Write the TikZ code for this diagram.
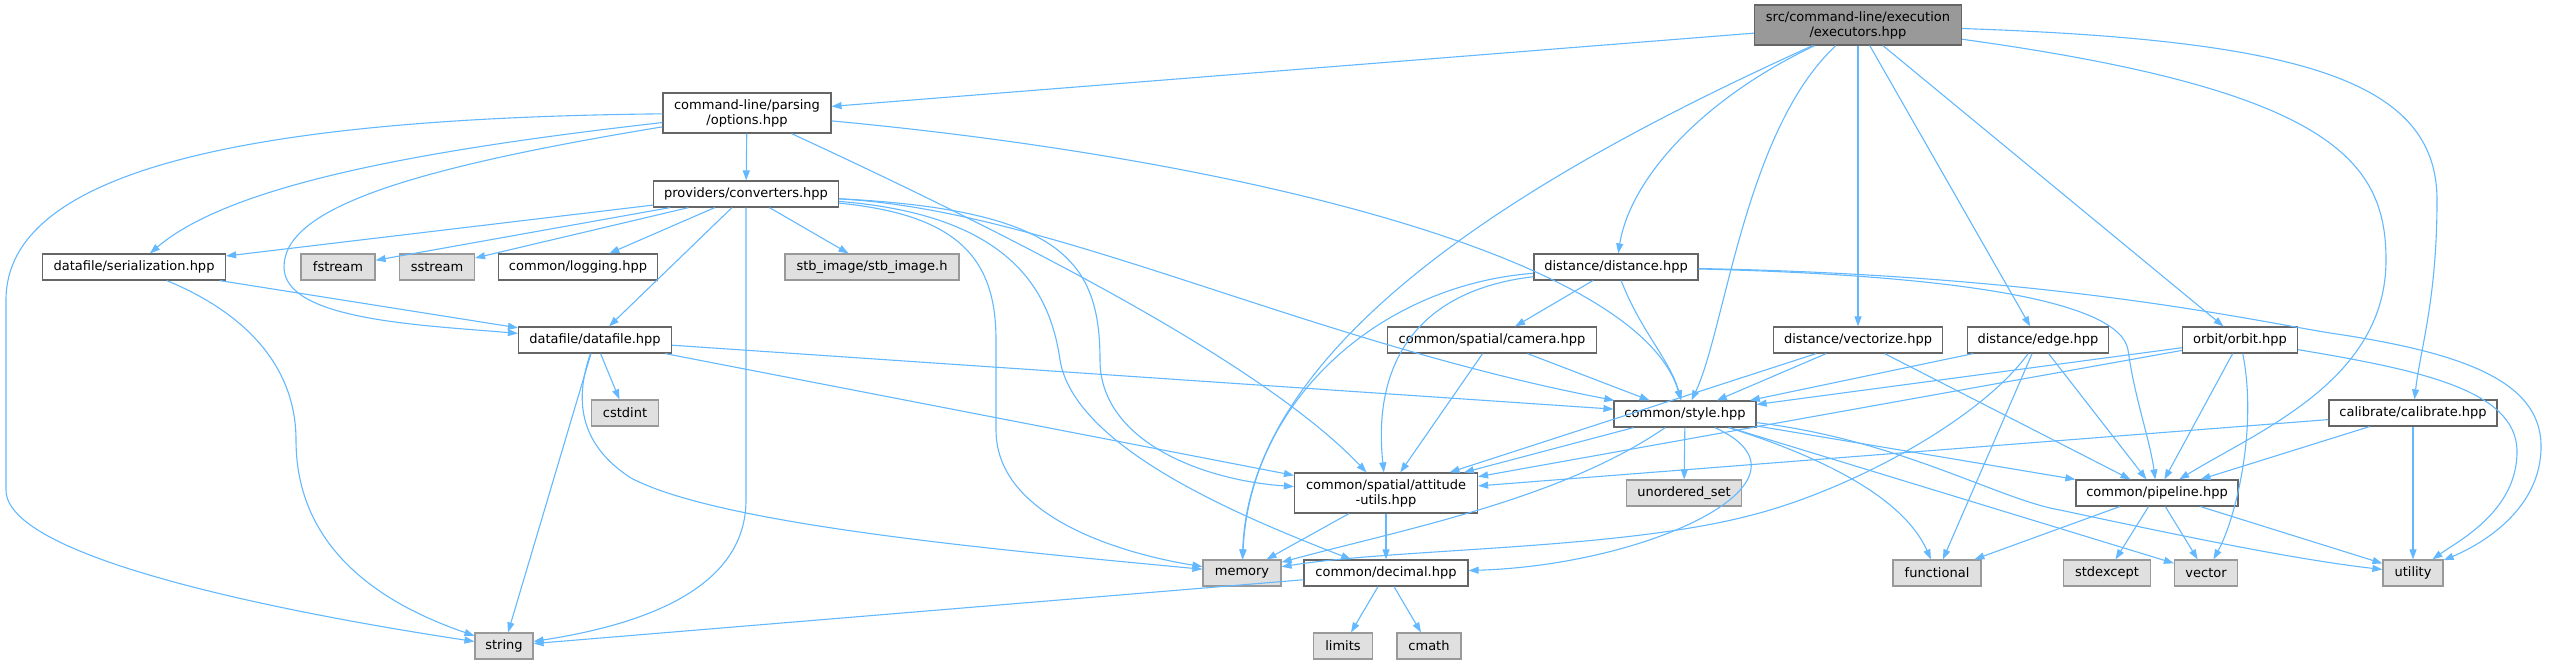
\documentclass[tikz,border=0pt]{standalone}
\usepackage{fontspec}
\setmainfont{DejaVu Sans}
\usepackage{tikz}
\usetikzlibrary{arrows.meta}

\definecolor{deplink}{HTML}{63B8FF}
\definecolor{boxline}{HTML}{666666}
\definecolor{sysfill}{HTML}{E0E0E0}
\definecolor{sysline}{HTML}{999999}
\definecolor{rootfill}{HTML}{999999}

\begin{document}
\begin{tikzpicture}[x=1pt,y=-1pt,
    file/.style={draw=boxline,fill=white,line width=1.2pt,minimum height=26pt,inner xsep=4pt,inner ysep=2pt,align=center,font=\fontsize{13pt}{15pt}\selectfont},
    sys/.style={file,draw=sysline,fill=sysfill},
    root/.style={file,fill=rootfill},
    dep/.style={draw=deplink,line width=1.1pt,-{Triangle[length=10pt,width=7pt]}}]
    \useasboundingbox (0,0) rectangle (2550,667);

    \node[root, minimum width=207pt, minimum height=40pt] (executors) at (1858,25) {src/command-line/execution\\/executors.hpp};
    \node[file, minimum width=168pt, minimum height=40pt] (options) at (747,113) {command-line/parsing\\/options.hpp};
    \node[file, minimum width=185pt] (converters) at (746,194) {providers/converters.hpp};
    \node[file, minimum width=183pt] (serialization) at (134,267) {datafile/serialization.hpp};
    \node[sys, minimum width=74pt] (fstream) at (338,267) {fstream};
    \node[sys, minimum width=75pt] (sstream) at (437,267) {sstream};
    \node[file, minimum width=159pt] (logging) at (578,267) {common/logging.hpp};
    \node[sys, minimum width=174pt] (stbimage) at (872,267) {stb\_image/stb\_image.h};
    \node[file, minimum width=164pt] (distance) at (1616,267) {distance/distance.hpp};
    \node[file, minimum width=153pt] (datafile) at (595,340) {datafile/datafile.hpp};
    \node[file, minimum width=209pt] (camera) at (1492,340) {common/spatial/camera.hpp};
    \node[file, minimum width=169pt] (vectorize) at (1858,340) {distance/vectorize.hpp};
    \node[file, minimum width=141pt] (distedge) at (2038,340) {distance/edge.hpp};
    \node[file, minimum width=115pt] (orbit) at (2240,340) {orbit/orbit.hpp};
    \node[sys, minimum width=67pt] (cstdint) at (625,413) {cstdint};
    \node[file, minimum width=142pt] (style) at (1685,414) {common/style.hpp};
    \node[file, minimum width=168pt] (calibrate) at (2413,413) {calibrate/calibrate.hpp};
    \node[file, minimum width=183pt, minimum height=40pt] (attitude) at (1386,493) {common/spatial/attitude\\-utils.hpp};
    \node[sys, minimum width=115pt] (unorderedset) at (1684,493) {unordered\_set};
    \node[file, minimum width=162pt] (pipeline) at (2157,493) {common/pipeline.hpp};
    \node[sys, minimum width=78pt] (memory) at (1242,573) {memory};
    \node[file, minimum width=164pt] (decimal) at (1386,573) {common/decimal.hpp};
    \node[sys, minimum width=88pt] (functional) at (1937,573) {functional};
    \node[sys, minimum width=87pt] (stdexcept) at (2107,573) {stdexcept};
    \node[sys, minimum width=63pt] (vector) at (2206,573) {vector};
    \node[sys, minimum width=60pt] (utility) at (2413,573) {utility};
    \node[sys, minimum width=58pt] (string) at (504,646) {string};
    \node[sys, minimum width=59pt] (limits) at (1343,646) {limits};
    \node[sys, minimum width=64pt] (cmath) at (1429,646) {cmath};

    \draw[dep] (executors) -- (options);
    \draw[dep] (executors) .. controls (1560,160) and (1250,330) .. (memory);
    \draw[dep] (executors) .. controls (1700,100) and (1630,180) .. (distance);
    \draw[dep] (executors) .. controls (1745,130) and (1725,330) .. (style);
    \draw[dep] (executors) -- (vectorize);
    \draw[dep] (executors) -- (distedge);
    \draw[dep] (executors) -- (orbit);
    \draw[dep] (executors) .. controls (2330,90) and (2386,160) .. (2386,260) .. controls (2386,380) and (2260,430) .. (pipeline);
    \draw[dep] (executors) .. controls (2300,40) and (2437,80) .. (2437,200) .. controls (2437,300) and (2420,350) .. (calibrate);

    \draw[dep] (options) -- (converters);
    \draw[dep] (options) .. controls (250,118) and (6,170) .. (6,300) -- (6,490) .. controls (6,560) and (300,615) .. (string);
    \draw[dep] (options) .. controls (420,150) and (230,185) .. (serialization);
    \draw[dep] (options) .. controls (400,170) and (284,210) .. (284,267) .. controls (284,320) and (420,325) .. (datafile);
    \draw[dep] (options) .. controls (1000,230) and (1260,360) .. (attitude);
    \draw[dep] (options) .. controls (1250,160) and (1640,260) .. (style);

    \draw[dep] (converters) -- (serialization);
    \draw[dep] (converters) -- (fstream);
    \draw[dep] (converters) -- (sstream);
    \draw[dep] (converters) -- (logging);
    \draw[dep] (converters) -- (datafile);
    \draw[dep] (converters) -- (746,500) .. controls (746,590) and (640,625) .. (string);
    \draw[dep] (converters) -- (stbimage);
    \draw[dep] (converters) .. controls (960,215) and (996,260) .. (996,340) -- (996,430) .. controls (996,520) and (1130,555) .. (memory);
    \draw[dep] (converters) .. controls (1010,215) and (1050,290) .. (1060,360) .. controls (1075,450) and (1250,520) .. (decimal);
    \draw[dep] (converters) .. controls (1060,210) and (1100,260) .. (1100,360) .. controls (1100,440) and (1200,480) .. (attitude);
    \draw[dep] (converters) .. controls (1050,210) and (1300,340) .. (style);

    \draw[dep] (serialization) -- (datafile);
    \draw[dep] (serialization) .. controls (250,315) and (296,370) .. (296,440) .. controls (296,560) and (400,610) .. (string);

    \draw[dep] (datafile) -- (cstdint);
    \draw[dep] (datafile) -- (string);
    \draw[dep] (datafile) .. controls (578,390) and (572,440) .. (631,478) .. controls (720,525) and (1000,550) .. (memory);
    \draw[dep] (datafile) -- (attitude);
    \draw[dep] (datafile) -- (style);

    \draw[dep] (distance) -- (camera);
    \draw[dep] (distance) .. controls (1380,285) and (1250,400) .. (memory);
    \draw[dep] (distance) .. controls (1420,290) and (1372,360) .. (attitude);
    \draw[dep] (distance) .. controls (1640,330) and (1670,360) .. (style);
    \draw[dep] (distance) .. controls (1950,275) and (2120,300) .. (2128,350) .. controls (2135,400) and (2150,440) .. (pipeline);
    \draw[dep] (distance) .. controls (2050,275) and (2250,320) .. (2330,333) .. controls (2460,352) and (2540,380) .. (2541,445) .. controls (2542,510) and (2480,545) .. (utility);

    \draw[dep] (camera) -- (attitude);
    \draw[dep] (camera) -- (style);

    \draw[dep] (vectorize) -- (attitude);
    \draw[dep] (vectorize) -- (style);
    \draw[dep] (vectorize) -- (pipeline);

    \draw[dep] (distedge) -- (style);
    \draw[dep] (distedge) .. controls (1980,420) and (1850,490) .. (1752,515) .. controls (1620,550) and (1400,548) .. (memory);
    \draw[dep] (distedge) -- (functional);
    \draw[dep] (distedge) -- (pipeline);

    \draw[dep] (orbit) -- (style);
    \draw[dep] (orbit) -- (attitude);
    \draw[dep] (orbit) -- (pipeline);
    \draw[dep] (orbit) .. controls (2258,430) and (2235,520) .. (vector);
    \draw[dep] (orbit) .. controls (2420,370) and (2515,390) .. (2517,450) .. controls (2518,510) and (2460,540) .. (utility);

    \draw[dep] (calibrate) -- (attitude);
    \draw[dep] (calibrate) -- (pipeline);
    \draw[dep] (calibrate) -- (utility);

    \draw[dep] (style) -- (attitude);
    \draw[dep] (style) -- (unorderedset);
    \draw[dep] (style) .. controls (1560,500) and (1400,530) .. (memory);
    \draw[dep] (style) .. controls (1830,480) and (1650,565) .. (decimal);
    \draw[dep] (style) -- (pipeline);
    \draw[dep] (style) .. controls (1800,450) and (1900,490) .. (functional);
    \draw[dep] (style) -- (vector);
    \draw[dep] (style) .. controls (1900,440) and (2000,500) .. (2060,510) .. controls (2200,540) and (2300,560) .. (utility);

    \draw[dep] (attitude) -- (memory);
    \draw[dep] (attitude) -- (decimal);

    \draw[dep] (pipeline) -- (functional);
    \draw[dep] (pipeline) -- (stdexcept);
    \draw[dep] (pipeline) -- (vector);
    \draw[dep] (pipeline) -- (utility);

    \draw[dep] (decimal) -- (limits);
    \draw[dep] (decimal) -- (cmath);
    \draw[dep] (decimal) -- (string);
\end{tikzpicture}
\end{document}
